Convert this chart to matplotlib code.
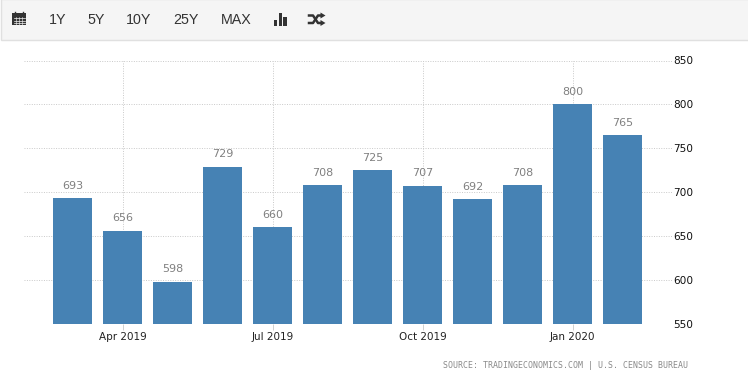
import matplotlib
matplotlib.use("Agg")
import matplotlib.pyplot as plt
from matplotlib.patches import Rectangle

# ---------- data ----------
values = [693, 656, 598, 729, 660, 708, 725, 707, 692, 708, 800, 765]
tick_pos = [1, 4, 7, 10]
tick_labels = ["Apr 2019", "Jul 2019", "Oct 2019", "Jan 2020"]
y_ticks = [550, 600, 650, 700, 750, 800, 850]
buttons = ["1Y", "5Y", "10Y", "25Y", "MAX"]
button_x = [58, 96, 139, 186, 236]
source = "SOURCE: TRADINGECONOMICS.COM | U.S. CENSUS BUREAU"

W, H = 748, 381
BAR = "#4682b4"
GRID = "#c9c9c9"

fig = plt.figure(figsize=(W / 100, H / 100), dpi=100, facecolor="white")

# chart area, placed in pixels
left, right, top, bottom = 24, 672, 60.5, 324
ax = fig.add_axes([left / W, 1 - bottom / H, (right - left) / W, (bottom - top) / H])
x = list(range(len(values)))
ax.bar(x, values, width=0.78, color=BAR, zorder=3)
ax.set_xlim(-0.97, 11.99)
ax.set_ylim(550, 850)

for xi, v in zip(x, values):
    ax.annotate(str(v), (xi, v), xytext=(0, 5.5), textcoords="offset points",
                ha="center", va="bottom", fontsize=8, color="#808080")

ax.yaxis.tick_right()
ax.set_yticks(y_ticks)
ax.set_xticks(tick_pos, tick_labels)
ax.tick_params(axis="y", length=0, pad=1, labelsize=7.6, labelcolor="#111111")
ax.tick_params(axis="x", length=4, width=0.6, color=GRID, pad=2,
               labelsize=7.5, labelcolor="#222222")
ax.grid(True, color=GRID, linestyle=(0, (1, 1.5)), linewidth=0.7, zorder=0)
ax.set_axisbelow(True)
for s in ax.spines.values():
    s.set_visible(False)

# toolbar + source, drawn in pixel coordinates
ui = fig.add_axes([0, 0, 1, 1], zorder=5)
ui.set_xlim(0, W)
ui.set_ylim(H, 0)
ui.axis("off")
ui.patch.set_alpha(0)
ui.add_patch(Rectangle((1, -1), W, 41, facecolor="#f5f5f5", edgecolor="#e0e0e0", linewidth=1))

for lab, bx in zip(buttons, button_x):
    ui.text(bx, 20.5, lab, ha="center", va="center", fontsize=10.3,
            color="#333333", family="Liberation Sans")

ICON = "#333333"
# calendar
ui.add_patch(Rectangle((12.5, 13), 13.5, 12, facecolor=ICON, edgecolor="none"))
ui.plot([15.5, 15.5], [12, 14], color=ICON, lw=1)
ui.plot([23.5, 23.5], [12, 14], color=ICON, lw=1)
for gy in (18, 20.5, 23):
    ui.plot([14, 25], [gy, gy], color="#f5f5f5", lw=0.5)
for gx in (16.5, 19.5, 22.5):
    ui.plot([gx, gx], [17, 24.5], color="#f5f5f5", lw=0.4)
# bar icon
for bx, by, bw in [(274, 20, 3.5), (279, 13, 3.5), (283.5, 17, 3.5)]:
    ui.add_patch(Rectangle((bx, by), bw, 25.5 - by, facecolor=ICON, edgecolor="none"))
# shuffle icon
ui.plot([309, 313, 318, 321], [15.5, 15.5, 23, 23], color=ICON, lw=1.8)
ui.plot([309, 313, 318, 321], [23, 23, 15.5, 15.5], color=ICON, lw=1.8)
ui.fill([320.5, 325.5, 320.5], [12.5, 15.5, 18.5], color=ICON, lw=0)
ui.fill([320.5, 325.5, 320.5], [20, 23, 26], color=ICON, lw=0)

ui.text(565.5, 365.5, source, ha="center", va="center", fontsize=5.93, color="#8a8a8a",
        family="DejaVu Sans Mono")

fig.savefig("out.png", dpi=100)
